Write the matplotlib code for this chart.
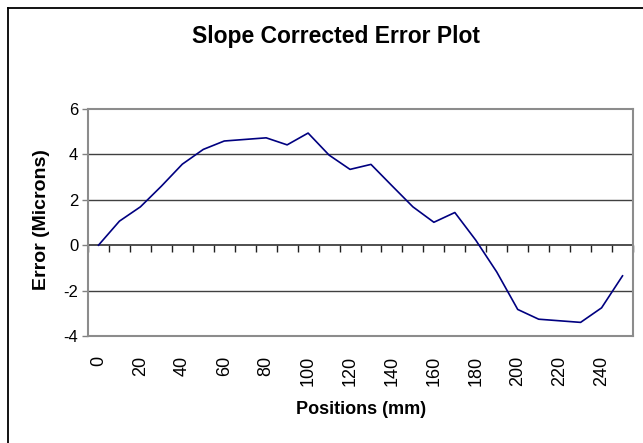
import matplotlib
matplotlib.use("Agg")
from matplotlib import pyplot as plt
from matplotlib.lines import Line2D
import numpy as np

plt.rcParams['font.family'] = ['Liberation Sans', 'DejaVu Sans']

# positions along the bar (mm) and slope-corrected error (microns)
positions = [0, 10, 20, 30, 40, 50, 60, 70, 80, 90, 100, 110, 120,
             130, 140, 150, 160, 170, 180, 190, 200, 210, 220, 230, 240, 250]
errors = [0.00, 1.06, 1.69, 2.60, 3.57, 4.22, 4.59, 4.66, 4.73, 4.42, 4.94,
          3.97, 3.34, 3.56, 2.62, 1.69, 1.01, 1.44, 0.22, -1.18, -2.83,
          -3.26, -3.33, -3.40, -2.76, -1.35]
xtick_labels = ['0', '20', '40', '60', '80', '100', '120', '140', '160',
                '180', '200', '220', '240']
ytick_values = [-4, -2, 0, 2, 4, 6]

W, H = 643, 443
fig = plt.figure(figsize=(W / 100, H / 100), dpi=100)

# chart area frame (runs off the right and bottom of the picture)
fig.add_artist(Line2D([8 / W, 8 / W], [-0.1, 1 - 8 / H], color='black', lw=1.3))
fig.add_artist(Line2D([8 / W, 1.1], [1 - 8 / H, 1 - 8 / H], color='black', lw=1.3))

ax = fig.add_axes([88 / W, (H - 336) / H, 545 / W, 227 / H])

for y in ytick_values:
    if -4 < y < 6 and y != 0:
        ax.axhline(y, color='#404040', lw=1.0, zorder=1)

ax.plot(positions, errors, color='#000080', lw=1.2, zorder=3)

ax.set_xlim(-5, 255)
ax.set_ylim(-4, 6)
ax.set_yticks(ytick_values)
ax.set_yticklabels([str(v) for v in ytick_values], fontsize=12)
ax.set_xticks(positions[::2])
ax.set_xticklabels(xtick_labels, rotation=90, fontsize=13, va='top', ha='center')
ax.tick_params(axis='x', length=0, pad=14)
ax.tick_params(axis='y', length=4, width=1, color='#808080', pad=3)

for s in ax.spines.values():
    s.set_color('#8c8c8c')
    s.set_linewidth(1.5)

# category axis crossing at zero, ticks between categories
zax = ax.secondary_xaxis(0.4)
zax.set_xticks(np.arange(-5, 256, 10))
zax.set_xticklabels([])
zax.tick_params(axis='x', direction='out', length=5, width=1, color='#202020')
zax.spines['bottom'].set_color('#404040')
zax.spines['bottom'].set_linewidth(1.3)

fig.text(336 / W, 1 - 37 / H, 'Slope Corrected Error Plot', fontsize=16.5,
         fontweight='bold', ha='center', va='center')
fig.text(361 / W, 1 - 409 / H, 'Positions (mm)', fontsize=13,
         fontweight='bold', ha='center', va='center')
fig.text(42 / W, 1 - 220 / H, 'Error (Microns)', fontsize=14,
         fontweight='bold', ha='center', va='center', rotation=90)

fig.savefig('out.png', dpi=100)
